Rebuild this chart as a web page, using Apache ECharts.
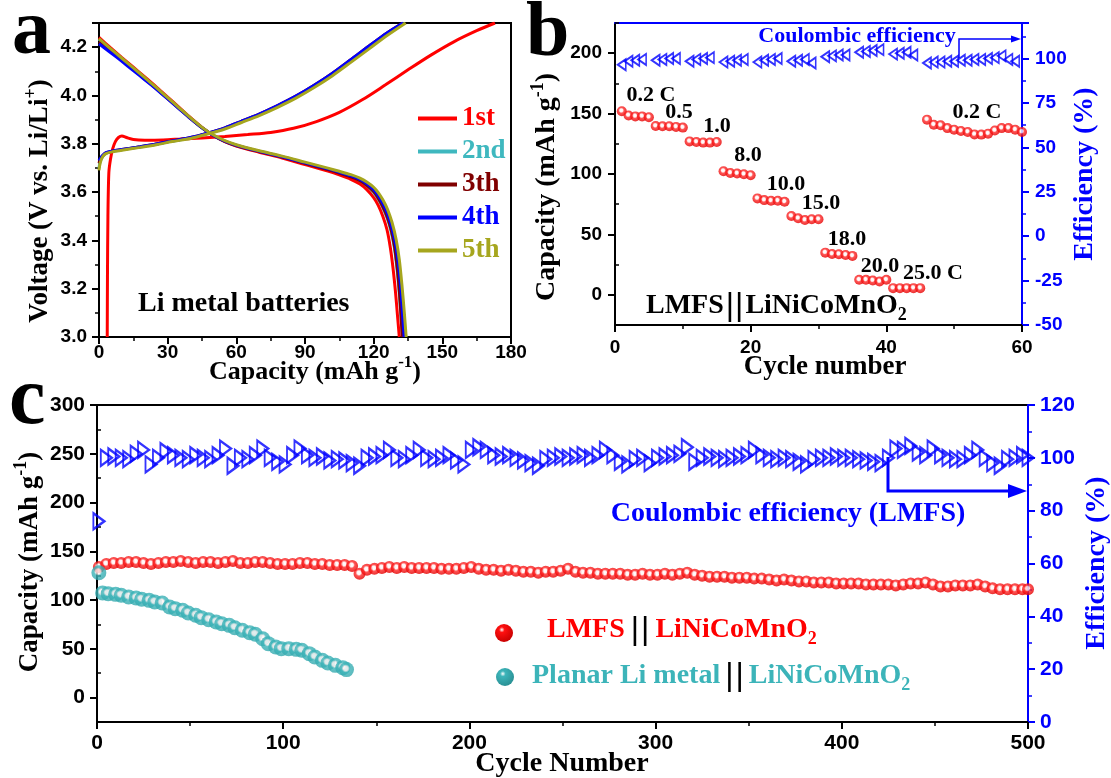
<!DOCTYPE html>
<html>
<head>
<meta charset="utf-8">
<script src="https://cdn.jsdelivr.net/npm/echarts@6/dist/echarts.min.js"></script>
<style>
html,body{margin:0;padding:0;background:#ffffff;}
#chart{width:1111px;height:778px;}
</style>
</head>
<body>
<div id="chart"></div>
<script>
// ---------------- Panel a: charge / discharge profiles, [capacity mAh/g, voltage V] ----------------
const cycleNames = ['1st', '2nd', '3th', '4th', '5th'];

const charge1 = [[3.6,3.0],[3.7,3.25],[3.9,3.5],[4.3,3.68],[5.0,3.735],[6.0,3.78],[7.2,3.81],[8.5,3.826],[10,3.832],[12,3.826],[15,3.818],[20,3.815],[28,3.816],[36,3.82],[45,3.824],[55,3.83],[65,3.838],[75,3.847],[85,3.864],[95,3.892],[105,3.93],[115,3.982],[125,4.043],[135,4.106],[145,4.167],[155,4.222],[165,4.268],[173,4.30]];
const discharge1 = [[0,4.24],[5,4.198],[10,4.157],[15,4.117],[20,4.077],[25,4.036],[30,3.993],[35,3.951],[40,3.908],[45,3.868],[50,3.834],[55,3.809],[60,3.791],[70,3.765],[80,3.741],[90,3.714],[100,3.687],[105,3.671],[110,3.653],[114,3.633],[117,3.61],[120,3.577],[122,3.545],[124,3.5],[125.8,3.445],[127.2,3.375],[128.4,3.29],[129.5,3.19],[130.4,3.09],[131.2,3.0]];

const charge2 = [[0,3.70],[0.5,3.725],[1.5,3.746],[3,3.76],[6,3.768],[10,3.775],[18,3.787],[25,3.798],[32,3.811],[40,3.824],[47,3.841],[55,3.864],[62,3.89],[70,3.92],[78,3.955],[86,3.993],[94,4.038],[102,4.088],[110,4.144],[118,4.2],[126,4.256],[133.2,4.3]];
const discharge2 = [[0,4.232],[5,4.192],[10,4.152],[15,4.112],[20,4.072],[25,4.031],[30,3.989],[35,3.947],[40,3.905],[45,3.866],[50,3.833],[55,3.809],[60,3.792],[70,3.767],[80,3.744],[90,3.718],[100,3.692],[105,3.678],[110,3.662],[114,3.645],[117,3.625],[120,3.598],[122,3.57],[124,3.535],[126,3.49],[127.5,3.44],[129,3.37],[130.2,3.28],[131.2,3.18],[132,3.08],[132.6,3.0]];

const charge3 = [[0,3.72],[0.5,3.733],[1.5,3.749],[3,3.762],[6,3.77],[10,3.776],[18,3.788],[25,3.799],[32,3.812],[40,3.826],[47,3.843],[55,3.866],[62,3.892],[70,3.923],[78,3.958],[86,3.997],[94,4.042],[102,4.092],[110,4.148],[118,4.205],[126,4.26],[132.8,4.3]];
const discharge3 = [[0,4.222],[5,4.185],[10,4.146],[15,4.107],[20,4.068],[25,4.028],[30,3.987],[35,3.946],[40,3.904],[45,3.866],[50,3.834],[55,3.81],[60,3.793],[70,3.768],[80,3.745],[90,3.719],[100,3.693],[105,3.679],[110,3.663],[114,3.647],[117,3.628],[120,3.602],[122,3.575],[124,3.54],[126,3.495],[127.6,3.445],[129.1,3.375],[130.3,3.285],[131.3,3.18],[132,3.08],[132.5,3.0]];

const charge4 = [[0,3.73],[0.5,3.738],[1.5,3.751],[3,3.763],[6,3.77],[10,3.776],[18,3.788],[25,3.799],[32,3.812],[40,3.826],[47,3.843],[55,3.866],[62,3.892],[70,3.923],[78,3.958],[86,3.997],[94,4.042],[102,4.092],[110,4.148],[118,4.205],[126,4.26],[132.8,4.3]];
const discharge4 = [[0,4.214],[5,4.178],[10,4.141],[15,4.103],[20,4.065],[25,4.026],[30,3.986],[35,3.945],[40,3.904],[45,3.866],[50,3.834],[55,3.811],[60,3.794],[70,3.769],[80,3.746],[90,3.721],[100,3.696],[105,3.682],[110,3.667],[114,3.652],[117,3.634],[120,3.61],[122,3.585],[124,3.552],[126,3.51],[128,3.45],[129.6,3.38],[130.9,3.29],[132,3.18],[132.7,3.08],[133.3,3.0]];

const charge5 = [[0,3.69],[0.5,3.72],[1.5,3.745],[3,3.759],[6,3.767],[10,3.773],[18,3.785],[25,3.796],[32,3.809],[40,3.822],[47,3.839],[55,3.861],[62,3.887],[70,3.917],[78,3.951],[86,3.989],[94,4.033],[102,4.082],[110,4.137],[118,4.193],[126,4.249],[134,4.3]];
const discharge5 = [[0,4.235],[5,4.194],[10,4.154],[15,4.114],[20,4.074],[25,4.033],[30,3.991],[35,3.949],[40,3.907],[45,3.868],[50,3.836],[55,3.813],[60,3.796],[70,3.771],[80,3.749],[90,3.724],[100,3.699],[105,3.686],[110,3.672],[114,3.658],[117,3.642],[120,3.62],[122,3.598],[124,3.568],[126,3.53],[128,3.475],[129.8,3.405],[131.2,3.32],[132.4,3.21],[133.4,3.1],[134.2,3.0]];

// ---------------- Panel b: rate capability, cycles 1..60 ----------------
const rateCapacity = [152,148.5,147.7,147.7,147, 139.7,139.5,139.5,139,138.4, 127,126.5,126,126,126.5, 102.3,100.9,100.4,99.8,99, 79.8,78.4,77.8,77.8,77, 65.2,63.3,61.9,62.5,62.5, 34.9,33.8,33.6,33,32.2, 12.4,12.4,11.8,11,12.4, 5.5,5.5,5.5,5.5,5.5, 145,140.8,140.3,138,136.7,135.6,134.8,132.8,132.6,133.4,136,138,138,136.7,134.8];
// last cycle of every rate step has no efficiency record (null)
const rateEfficiency = [96.5,98.5,99,99.5,null, 99,99.5,100,100,null, 98.5,99.5,100,100.5,null, 98,98.5,99,99.5,null, 98,99,99.5,100,null, 98.5,99,99.5,97.5,null, 101,101.5,102,102,null, 103.5,104,104.5,105,null, 102.5,103,103.5,102,null, 97.5,98,98,98.5,98.5,99,99,99.5,99.5,100,100.5,101.5,99.5,98.5,null];
const rateLabels = ['0.2 C', '0.5', '1.0', '8.0', '10.0', '15.0', '18.0', '20.0', '25.0 C', '0.2 C'];

// ---------------- Panel c: long cycling ----------------
// LMFS || LiNiCoMnO2, sampled every 4th cycle (1, 5, 9, ... 497) plus cycle 500
const lmfsCycles = Array.from({length: 125}, (_, i) => 1 + 4 * i).concat([500]);
const lmfsCapacity = [
  134,137,138,138,139,139,138,137,138,139,
  139,140,139,138,139,139,138,139,140,138,
  138,139,139,138,137,137,137,138,138,137,
  137,136,136,136,135,127,131,132,133,134,
  133,134,133,133,133,133,132,132,132,133,
  134,132,131,131,130,131,130,129,129,128,
  129,129,130,132,129,128,128,127,127,127,
  127,126,126,127,126,126,127,126,127,128,
  126,125,124,124,124,123,123,123,122,122,
  121,120,121,120,119,119,118,118,118,117,
  117,117,117,116,116,116,116,115,116,117,
  117,118,116,114,114,115,115,115,116,114,
  112,111,111,111,111,111
];
const lmfsEfficiency = [
  76,100,100.5,100,99.5,101.5,103,97.5,100,102.5,
  101,100,99.5,101,100,99.5,101,103.5,97,100,
  99.5,101,103.5,100,98.5,97.5,101,103.5,101,100,
  100.5,99,99.5,99,98,97,100,100.5,101,103,
  100,99.5,101,103,100,99.5,100,101,99,97.5,
  103,104,103,101,100.5,101,100,99,98,97,
  99.5,100,100.5,100,100.5,101,100,101,103,101,
  98.5,97.5,99.5,100,98,100,100.5,101,101.5,104,
  98.5,100,100.5,100,99.5,100,100.5,101,103,101,
  100,99.5,100,99.5,98.5,97.5,99.5,100,100,100.5,
  100,100,99.5,99,98.5,98,100,103.5,103,104.5,
  102,101,103.5,101,100,99.5,99.5,101,103,100,
  98,97,99.5,100,101,100
];
// Planar Li metal || LiNiCoMnO2
const planarCycles = [1,3,6,10,13,17,21,24,28,31,35,39,42,46,49,53,56,60,64,67,71,74,78,82,85,89,92,96,99,103,107,110,114,117,121,124,128,132,134];
const planarCapacity = [128,107.3,106.6,105.9,104.9,103.2,102.1,100.8,99.7,98.0,97.0,92.9,91.2,89.5,86.7,84.4,82.0,79.9,77.5,75.8,74.1,71.7,69.0,66.6,64.9,60.4,55.3,51.9,50.2,50.2,49.5,48.5,45.1,41.6,38.2,35.5,33.1,30.7,28.7];

// ---------------- styling ----------------
const SERIF = "'Liberation Serif','Times New Roman',serif";
const SANS = "'Liberation Sans',Arial,sans-serif";
const BLUE = '#0000ff';
const cycleColors = ['#ff0000', '#3fb8bf', '#800000', '#0000ff', '#a6a61e'];
const RED = '#ff0000';
const TEAL = '#3cb4b9';

const chart = echarts.init(document.getElementById('chart'), null, {renderer: 'canvas'});

function glossy(base, dark) {
  return new echarts.graphic.RadialGradient(0.45, 0.42, 0.55, [
    {offset: 0, color: '#ffffff'},
    {offset: 0.28, color: '#fff0f0'},
    {offset: 0.5, color: base},
    {offset: 1, color: dark}
  ]);
}
function ball(base, dark) {
  return new echarts.graphic.RadialGradient(0.38, 0.32, 0.7, [
    {offset: 0, color: '#ffffff'},
    {offset: 0.22, color: base},
    {offset: 1, color: dark}
  ]);
}

function axisBase(color, fontSize, margin) {
  return {
    axisLine: {show: true, onZero: false, lineStyle: {color: color, width: 2}},
    axisTick: {show: true, inside: false, length: 7, lineStyle: {color: color, width: 2}},
    minorTick: {show: true, splitNumber: 2, length: 4, lineStyle: {color: color, width: 1.5}},
    axisLabel: {color: color, fontFamily: SANS, fontWeight: 'bold', fontSize: fontSize, margin: margin},
    splitLine: {show: false},
    minorSplitLine: {show: false}
  };
}

// Panel a lines: draw 2nd underneath, then 1st, 3th, 4th, 5th
const profiles = {
  '1st': [charge1, discharge1],
  '2nd': [charge2, discharge2],
  '3th': [charge3, discharge3],
  '4th': [charge4, discharge4],
  '5th': [charge5, discharge5]
};
const drawOrder = ['2nd', '1st', '3th', '4th', '5th'];
const seriesA = [];
drawOrder.forEach(name => {
  const color = cycleColors[cycleNames.indexOf(name)];
  profiles[name].forEach(curve => {
    seriesA.push({
      type: 'line', name: name, xAxisIndex: 0, yAxisIndex: 0,
      data: curve, showSymbol: false, smooth: 0.3,
      lineStyle: {color: color, width: 3}, itemStyle: {color: color},
      clip: true, silent: true
    });
  });
});

const rateData = rateCapacity.map((v, i) => [i + 1, v]);
const rateEffData = rateEfficiency.map((v, i) => [i + 1, v]).filter(p => p[1] !== null);
const lmfsData = lmfsCycles.map((c, i) => [c, lmfsCapacity[i]]);
const lmfsEffData = lmfsCycles.map((c, i) => [c, lmfsEfficiency[i]]);
const planarData = planarCycles.map((c, i) => [c, planarCapacity[i]]);

function title(x, y, parts, rot, color, size) {
  const rich = {
    m: {fontFamily: SERIF, fontWeight: 'bold', fontSize: size, fill: color, color: color, lineHeight: 36},
    s: {fontFamily: SERIF, fontWeight: 'bold', fontSize: Math.round(size * 0.66), fill: color, color: color, lineHeight: 14, verticalAlign: 'top'}
  };
  return {
    type: 'text', x: x, y: y, rotation: rot, z: 100,
    style: {text: parts, rich: rich, align: 'center', verticalAlign: 'middle', textAlign: 'center', textVerticalAlign: 'middle'}
  };
}
function label(x, y, text, size, color, align) {
  return {
    type: 'text', x: x, y: y, z: 100,
    style: {text: text, fill: color, font: 'bold ' + size + 'px ' + SERIF,
      align: align || 'center', verticalAlign: 'middle', textAlign: align || 'center', textVerticalAlign: 'middle'}
  };
}
// "<name>||LiNiCoMnO2" with two thin black bars and a subscript 2
function formula(x, y, first, color, size, gapOut, gapIn) {
  const bar = {fontFamily: SANS, fontWeight: 'normal', fontSize: size + 4, fill: '#000', color: '#000', lineHeight: 36};
  const rich = {
    t: {fontFamily: SERIF, fontWeight: 'bold', fontSize: size, fill: color, color: color, lineHeight: 36},
    sub: {fontFamily: SERIF, fontWeight: 'bold', fontSize: Math.round(size * 0.66), fill: color, color: color, lineHeight: 14, verticalAlign: 'bottom'},
    k1: Object.assign({padding: [0, gapIn, 0, gapOut]}, bar),
    k2: Object.assign({padding: [0, gapOut, 0, 0]}, bar)
  };
  return {
    type: 'text', x: x, y: y, z: 100,
    style: {text: '{t|' + first + '}{k1||}{k2||}{t|LiNiCoMnO}{sub|2}', rich: rich,
      align: 'left', verticalAlign: 'middle', textAlign: 'left', textVerticalAlign: 'middle'}
  };
}

const rateLabelPos = [[651,95],[679,112],[717,126],[748,155],[786,184],[821,203],[847,239],[880,266],[933,273],[977,112]];

const graphics = [
  // panel letters
  label(12, 33, 'a', 78, '#000', 'left'),
  label(526, 35, 'b', 78, '#000', 'left'),
  label(9, 402, 'c', 82, '#000', 'left'),
  // panel a
  title(40, 201, '{m|Voltage (V vs. Li/Li}{s|+}{m|)}', Math.PI / 2, '#000', 27),
  title(315, 372, '{m|Capacity (mAh g}{s|-1}{m|)}', 0, '#000', 26),
  label(138, 304, 'Li metal batteries', 28, '#000', 'left'),
  // panel b
  title(547, 187, '{m|Capacity (mAh g}{s|-1}{m|)}', Math.PI / 2, '#000', 28),
  title(1085, 174, '{m|Efficiency (%)}', Math.PI / 2, BLUE, 28),
  title(825, 367, '{m|Cycle number}', 0, '#000', 27),
  label(857, 36, 'Coulombic efficiency', 22, BLUE),
  {type: 'polyline', z: 100, shape: {points: [[959, 58], [959, 39], [1013, 39]]}, style: {stroke: BLUE, lineWidth: 1.5, fill: null}},
  {type: 'polygon', z: 100, shape: {points: [[1021, 39], [1011, 35.5], [1011, 42.5]]}, style: {fill: BLUE}},
  formula(646, 306, 'LMFS', '#000', 28, 2, 1),
  // panel c
  title(30, 562, '{m|Capacity (mAh g}{s|-1}{m|)}', Math.PI / 2, '#000', 27),
  title(1097, 563, '{m|Efficiency (%)}', Math.PI / 2, BLUE, 28),
  title(562, 764, '{m|Cycle Number}', 0, '#000', 28),
  label(788, 514, 'Coulombic efficiency (LMFS)', 28, BLUE),
  {type: 'polyline', z: 100, shape: {points: [[888, 457], [888, 491], [1010, 491]]}, style: {stroke: BLUE, lineWidth: 3, fill: null}},
  {type: 'polygon', z: 100, shape: {points: [[1027, 491], [1008, 484], [1008, 498]]}, style: {fill: BLUE}},
  {type: 'circle', z: 100, shape: {cx: 504, cy: 633, r: 9}, style: {fill: ball('#ff1010', '#c80000')}},
  {type: 'circle', z: 100, shape: {cx: 505, cy: 677, r: 9}, style: {fill: ball('#3cb4b9', '#2a9094')}},
  formula(547, 630, 'LMFS', RED, 28, 6, 2),
  formula(532, 676, 'Planar Li metal', TEAL, 28, 5, 2)
];
rateLabels.forEach((t, i) => graphics.push(label(rateLabelPos[i][0], rateLabelPos[i][1], t, 22, '#000')));

const option = {
  animation: false,
  backgroundColor: '#ffffff',
  grid: [
    {left: 99, top: 23, width: 412, height: 314, show: true, borderColor: '#000', borderWidth: 2, containLabel: false},
    {left: 615, top: 23, width: 407, height: 302, show: false, containLabel: false},
    {left: 97, top: 405, width: 931, height: 317, show: true, borderColor: '#000', borderWidth: 2, containLabel: false}
  ],
  legend: {
    data: cycleNames.map((n, i) => ({name: n, textStyle: {color: cycleColors[i]}})),
    orient: 'vertical', left: 413, top: 100,
    itemWidth: 39, itemHeight: 4, itemGap: 6, icon: 'rect',
    selectedMode: false,
    textStyle: {fontFamily: SERIF, fontWeight: 'bold', fontSize: 27, lineHeight: 27}
  },
  xAxis: [
    Object.assign(axisBase('#000', 19, 6), {type: 'value', gridIndex: 0, min: 0, max: 180, interval: 30}),
    Object.assign(axisBase('#000', 19, 13), {type: 'value', gridIndex: 1, min: 0, max: 60, interval: 20}),
    {type: 'value', gridIndex: 1, position: 'top', min: 0, max: 60, interval: 20,
      axisLine: {show: true, onZero: false, lineStyle: {color: BLUE, width: 2}},
      axisTick: {show: false}, axisLabel: {show: false}, splitLine: {show: false}},
    Object.assign(axisBase('#000', 21, 11), {type: 'value', gridIndex: 2, min: 0, max: 500, interval: 100})
  ],
  yAxis: [
    Object.assign(axisBase('#000', 19, 12), {type: 'value', gridIndex: 0, min: 3.0, max: 4.3, interval: 0.2,
      axisLabel: {color: '#000', fontFamily: SANS, fontWeight: 'bold', fontSize: 19, margin: 12, showMaxLabel: false, formatter: v => v.toFixed(1)}}),
    // panel b, capacity (left)
    Object.assign(axisBase('#000', 19, 13), {type: 'value', gridIndex: 1, min: -25, max: 225,
      minorTick: {show: false},
      axisTick: {show: true, length: 7, lineStyle: {color: '#000', width: 2}, customValues: [0, 50, 100, 150, 200]},
      axisLabel: {color: '#000', fontFamily: SANS, fontWeight: 'bold', fontSize: 19, margin: 13, customValues: [0, 50, 100, 150, 200]}}),
    // panel b, efficiency (right)
    Object.assign(axisBase(BLUE, 19, 13), {type: 'value', gridIndex: 1, position: 'right', min: -50, max: 120, interval: 25,
      axisLabel: {color: BLUE, fontFamily: SANS, fontWeight: 'bold', fontSize: 19, margin: 13, showMaxLabel: false}}),
    // panel b, minor ticks for capacity
    {type: 'value', gridIndex: 1, min: -25, max: 225, axisLine: {show: false},
      axisTick: {show: true, length: 4, lineStyle: {color: '#000', width: 1.5}, customValues: [25, 75, 125, 175, 225]},
      axisLabel: {show: false, customValues: [25]}, splitLine: {show: false}},
    // panel c, capacity (left)
    Object.assign(axisBase('#000', 21, 12), {type: 'value', gridIndex: 2, min: -25, max: 300,
      minorTick: {show: false},
      axisTick: {show: true, length: 7, lineStyle: {color: '#000', width: 2}, customValues: [0, 50, 100, 150, 200, 250, 300]},
      axisLabel: {color: '#000', fontFamily: SANS, fontWeight: 'bold', fontSize: 21, margin: 12, customValues: [0, 50, 100, 150, 200, 250, 300]}}),
    // panel c, minor ticks for capacity
    {type: 'value', gridIndex: 2, min: -25, max: 300, axisLine: {show: false},
      axisTick: {show: true, length: 4, lineStyle: {color: '#000', width: 1.5}, customValues: [25, 75, 125, 175, 225, 275]},
      axisLabel: {show: false, customValues: [25]}, splitLine: {show: false}},
    // panel c, efficiency (right)
    Object.assign(axisBase(BLUE, 21, 12), {type: 'value', gridIndex: 2, position: 'right', min: 0, max: 120, interval: 20})
  ],
  graphic: {elements: graphics},
  series: seriesA.concat([
    {type: 'scatter', xAxisIndex: 1, yAxisIndex: 2, data: rateEffData, symbol: 'triangle', symbolRotate: 90,
      symbolSize: [11, 8], itemStyle: {color: 'rgba(0,0,0,0)', borderColor: BLUE, borderWidth: 1.8}, silent: true},
    {type: 'scatter', xAxisIndex: 1, yAxisIndex: 1, data: rateData, symbol: 'circle', symbolSize: 10,
      itemStyle: {color: glossy('#ff2a2a', '#e60000')}, silent: true},
    {type: 'scatter', xAxisIndex: 3, yAxisIndex: 6, data: lmfsEffData, symbol: 'triangle', symbolRotate: -90,
      symbolSize: [16, 11], itemStyle: {color: 'rgba(0,0,0,0)', borderColor: BLUE, borderWidth: 2.2}, silent: true},
    {type: 'scatter', xAxisIndex: 3, yAxisIndex: 4, data: lmfsData, symbol: 'circle', symbolSize: 12,
      itemStyle: {color: glossy('#ff2a2a', '#e60000')}, silent: true},
    {type: 'scatter', xAxisIndex: 3, yAxisIndex: 4, data: planarData, symbol: 'circle', symbolSize: 15,
      itemStyle: {color: glossy('#3cb4b9', '#34a9ae')}, silent: true}
  ])
};
chart.setOption(option);
</script>
</body>
</html>
